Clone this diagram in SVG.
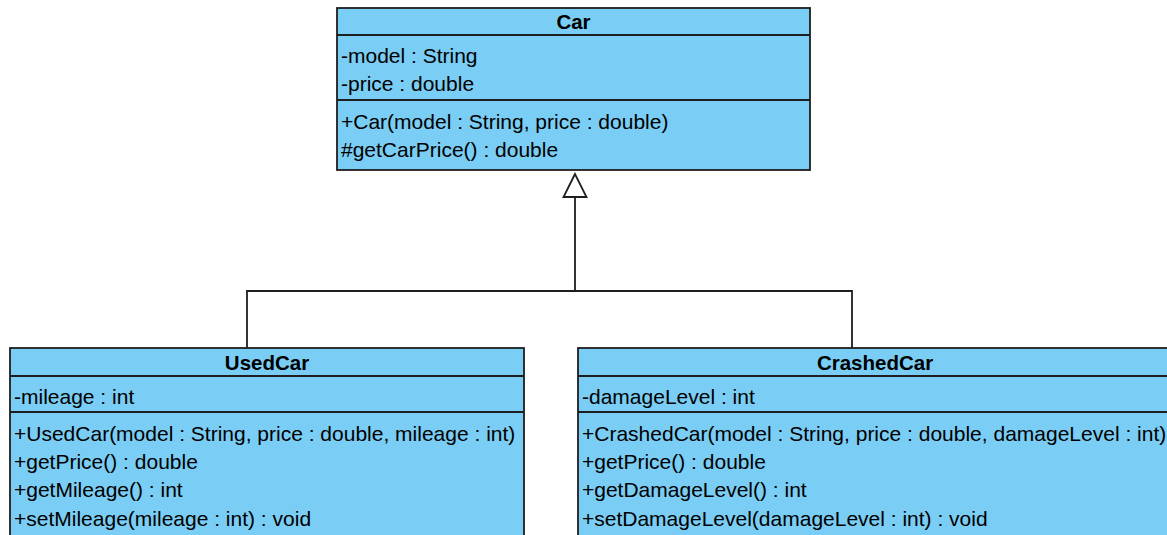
<svg xmlns="http://www.w3.org/2000/svg" width="1167" height="535" viewBox="0 0 1167 535">
<style>
.box{fill:#7acdf4;stroke:#1e1e1e;stroke-width:1.8}
.sep{stroke:#1e1e1e;stroke-width:1.8}
.t{font-family:"Liberation Sans",Arial,sans-serif;font-size:21px;fill:#000}
.h{font-family:"Liberation Sans",Arial,sans-serif;font-size:20.5px;font-weight:bold;fill:#000;text-anchor:middle}
.c{fill:none;stroke:#1e1e1e;stroke-width:1.8}
</style>
<rect width="1167" height="535" fill="#fff"/>
<g id="connectors">
<polyline class="c" points="247,348 247,291 852,291 852,348"/>
<line class="c" x1="575" y1="291" x2="575" y2="197"/>
<polygon points="575,174 563.5,197 586.5,197" fill="#fff" stroke="#1e1e1e" stroke-width="1.8"/>
</g>
<g id="car">
<rect class="box" x="337" y="8" width="473" height="162"/>
<line class="sep" x1="337" y1="35" x2="810" y2="35"/>
<line class="sep" x1="337" y1="100" x2="810" y2="100"/>
<text class="h" x="573.5" y="29">Car</text>
<text class="t" x="341" y="63">-model : String</text>
<text class="t" x="341" y="91">-price : double</text>
<text class="t" x="341" y="129">+Car(model : String, price : double)</text>
<text class="t" x="341" y="157">#getCarPrice() : double</text>
</g>
<g id="usedcar">
<rect class="box" x="10" y="348" width="514" height="220"/>
<line class="sep" x1="10" y1="376" x2="524" y2="376"/>
<line class="sep" x1="10" y1="412" x2="524" y2="412"/>
<text class="h" x="267" y="370">UsedCar</text>
<text class="t" x="14" y="404">-mileage : int</text>
<text class="t" x="14" y="441">+UsedCar(model : String, price : double, mileage : int)</text>
<text class="t" x="14" y="469">+getPrice() : double</text>
<text class="t" x="14" y="497">+getMileage() : int</text>
<text class="t" x="14" y="526">+setMileage(mileage : int) : void</text>
</g>
<g id="crashedcar">
<rect class="box" x="578" y="348" width="594" height="220"/>
<line class="sep" x1="578" y1="376" x2="1172" y2="376"/>
<line class="sep" x1="578" y1="412" x2="1172" y2="412"/>
<text class="h" x="875" y="370">CrashedCar</text>
<text class="t" x="582" y="404">-damageLevel : int</text>
<text class="t" x="582" y="441">+CrashedCar(model : String, price : double, damageLevel : int)</text>
<text class="t" x="582" y="469">+getPrice() : double</text>
<text class="t" x="582" y="497">+getDamageLevel() : int</text>
<text class="t" x="582" y="526">+setDamageLevel(damageLevel : int) : void</text>
</g>
</svg>
